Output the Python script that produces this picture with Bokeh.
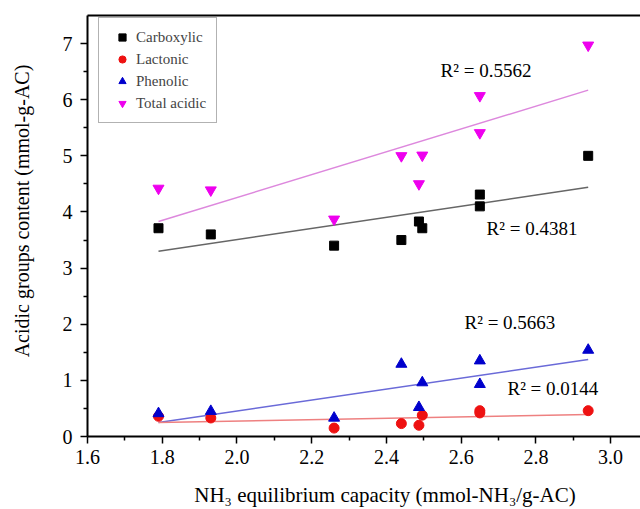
import math
from bokeh.plotting import figure
from bokeh.models import (Range1d, FixedTicker, LinearAxis, Label, Legend, LegendItem,
                          ColumnDataSource, PrintfTickFormatter)
from bokeh.embed import file_html
from bokeh.resources import INLINE

# ---- data ----
nh3 = [1.79, 1.93, 2.26, 2.44, 2.487, 2.496, 2.65, 2.65, 2.94]
carboxylic = [3.71, 3.60, 3.40, 3.50, 3.83, 3.71, 4.31, 4.10, 5.00]
lactonic = [0.36, 0.33, 0.15, 0.23, 0.20, 0.38, 0.46, 0.42, 0.46]
phenolic = [0.41, 0.45, 0.33, 1.29, 0.52, 0.96, 1.35, 0.93, 1.54]
total_acidic = [4.42, 4.39, 3.87, 5.00, 4.50, 5.01, 6.07, 5.41, 6.97]

fit_x = [1.79, 2.94]
fit_carboxylic = [3.30, 4.44]
fit_lactonic = [0.25, 0.39]
fit_phenolic = [0.25, 1.37]
fit_total = [3.83, 6.17]

r2_labels = ["R\u00b2 = 0.5562", "R\u00b2 = 0.4381", "R\u00b2 = 0.5663", "R\u00b2 = 0.0144"]
r2_x = [2.545, 2.668, 2.609, 2.724]
r2_y = [6.52, 3.71, 2.03, 0.85]

x_ticks = [1.6, 1.8, 2.0, 2.2, 2.4, 2.6, 2.8, 3.0]
x_minor = [1.7, 1.9, 2.1, 2.3, 2.5, 2.7, 2.9]
y_ticks = [0, 1, 2, 3, 4, 5, 6, 7]
y_minor = [0.5, 1.5, 2.5, 3.5, 4.5, 5.5, 6.5]

x_title = "NH\u2083 equilibrium capacity (mmol-NH\u2083/g-AC)"
y_title = "Acidic groups content (mmol-g-AC)"

FONT = "Liberation Serif"
NB = "\u00a0"

p = figure(width=640, height=509, output_backend="svg", toolbar_location=None,
           x_range=Range1d(1.6, 3.08), y_range=Range1d(0, 7.5),
           min_border_left=87, min_border_right=0, min_border_top=15, min_border_bottom=72)
p.outline_line_color = None
p.xgrid.visible = False
p.ygrid.visible = False
p.background_fill_color = "white"
p.border_fill_color = "white"

for ax, ticks, minor in ((p.xaxis[0], x_ticks, x_minor), (p.yaxis[0], y_ticks, y_minor)):
    ax.ticker = FixedTicker(ticks=ticks, minor_ticks=minor)
    ax.axis_line_width = 2
    ax.axis_line_color = "black"
    ax.major_tick_line_color = "black"
    ax.major_tick_line_width = 1.5
    ax.minor_tick_line_color = "black"
    ax.minor_tick_line_width = 1.5
    ax.major_tick_in = 0
    ax.major_tick_out = 7
    ax.minor_tick_in = 0
    ax.minor_tick_out = 4
    ax.major_label_text_font = FONT
    ax.major_label_text_font_size = "20px"
    ax.major_label_text_color = "black"
    ax.axis_label_text_font = FONT
    ax.axis_label_text_font_style = "normal"
    ax.axis_label_text_color = "black"
p.xaxis[0].formatter = PrintfTickFormatter(format="%.1f")
p.xaxis[0].major_label_standoff = 6
p.yaxis[0].major_label_standoff = 8
p.xaxis[0].axis_label = NB * 8 + x_title
p.xaxis[0].axis_label_text_font_size = "21px"
p.xaxis[0].axis_label_standoff = 16
p.yaxis[0].axis_label = NB * 6 + y_title
p.yaxis[0].axis_label_text_font_size = "20px"
p.yaxis[0].axis_label_standoff = 27

top = LinearAxis(ticker=FixedTicker(ticks=[]), axis_line_width=2, axis_line_color="black",
                 major_tick_out=0, major_tick_in=0, minor_tick_out=0, minor_tick_in=0,
                 major_label_text_font_size="0px")
p.add_layout(top, "above")

# trend lines
p.line(fit_x, fit_total, line_color="#dd88dd", line_width=1.5)
p.line(fit_x, fit_carboxylic, line_color="#666666", line_width=1.5)
p.line(fit_x, fit_phenolic, line_color="#6a6ad8", line_width=1.5)
p.line(fit_x, fit_lactonic, line_color="#ee8080", line_width=1.5)

src = ColumnDataSource(dict(x=nh3, c=carboxylic, l=lactonic, ph=phenolic, t=total_acidic))
rc = p.scatter("x", "c", source=src, marker="square", size=9, fill_color="black", line_color="black")
rl = p.scatter("x", "l", source=src, marker="circle", size=10, fill_color="#ee1111", line_color="#ee1111")
rp = p.scatter("x", "ph", source=src, marker="triangle", size=11, fill_color="#0000cc", line_color="#0000cc")
rt = p.scatter("x", "t", source=src, marker="inverted_triangle", size=11, fill_color="#ee00ee", line_color="#ee00ee")

legend = Legend(items=[LegendItem(label="Carboxylic", renderers=[rc]),
                       LegendItem(label="Lactonic", renderers=[rl]),
                       LegendItem(label="Phenolic", renderers=[rp]),
                       LegendItem(label="Total acidic", renderers=[rt])],
                location=(11, 313), margin=0, padding=10, spacing=4,
                label_height=18, glyph_height=18, glyph_width=26, label_standoff=1,
                label_text_font=FONT, label_text_font_size="15px",
                border_line_color="#666666", border_line_width=1.5,
                background_fill_color="white", background_fill_alpha=1.0)
p.add_layout(legend)

for t, x, y in zip(r2_labels, r2_x, r2_y):
    p.add_layout(Label(x=x, y=y, text=t, text_font=FONT, text_font_size="19px",
                       text_baseline="middle", text_align="left", text_color="black"))

open("out.html", "w").write(file_html(p, INLINE))
